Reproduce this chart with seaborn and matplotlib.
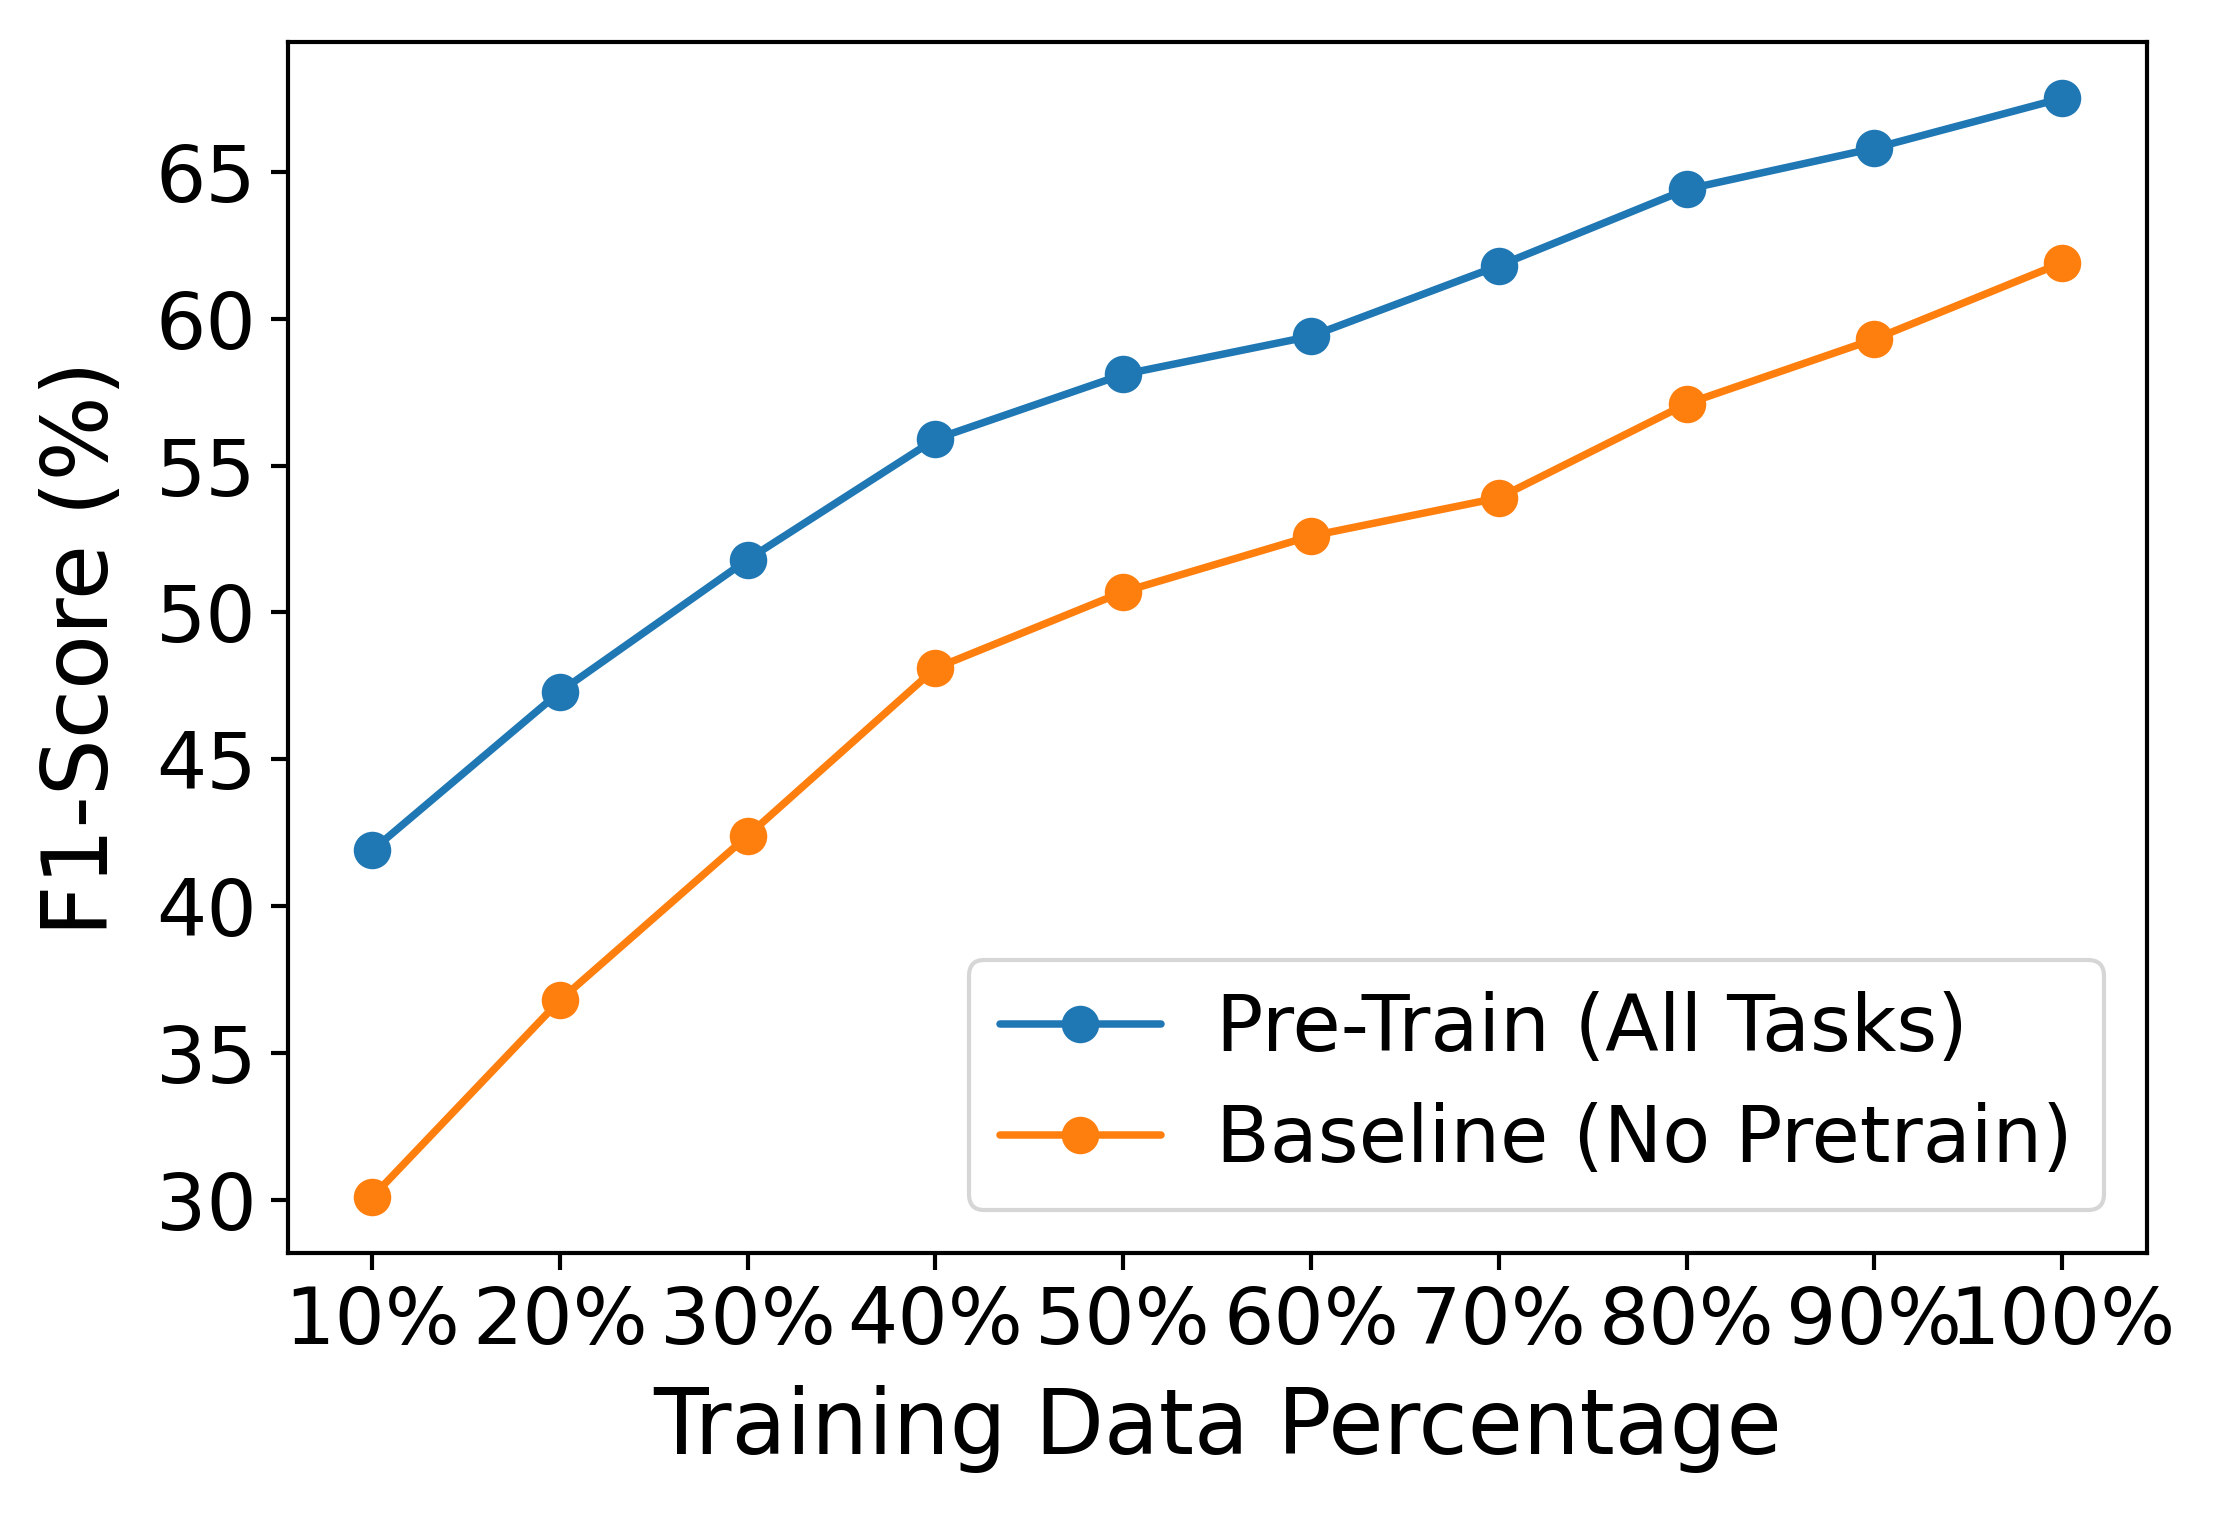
import matplotlib
matplotlib.use("Agg")
import matplotlib.pyplot as plt
import seaborn as sns
import pandas as pd

# Data
percentages = ['10%', '20%', '30%', '40%', '50%', '60%', '70%', '80%', '90%', '100%']
pretrain_f1 = [41.9, 47.3, 51.8, 55.9, 58.1, 59.4, 61.8, 64.4, 65.8, 67.5]
baseline_f1 = [30.1, 36.8, 42.4, 48.1, 50.7, 52.6, 53.9, 57.1, 59.3, 61.9]
series_names = ['Pre-Train (All Tasks)', 'Baseline (No Pretrain)']
y_ticks = [30, 35, 40, 45, 50, 55, 60, 65]


def make_plot():
    sns.set_style("ticks")
    plt.rcParams['font.family'] = ['DejaVu Sans']
    plt.rcParams['text.color'] = 'black'
    plt.rcParams['axes.labelcolor'] = 'black'
    plt.rcParams['xtick.color'] = 'black'
    plt.rcParams['ytick.color'] = 'black'

    df = pd.DataFrame({
        'Percentage': percentages * 2,
        'F1': pretrain_f1 + baseline_f1,
        'Model': [series_names[0]] * len(percentages) + [series_names[1]] * len(percentages),
    })

    fig, ax = plt.subplots(figsize=(2213 / 300, 1515 / 300), dpi=300)
    sns.lineplot(data=df, x='Percentage', y='F1', hue='Model', sort=False,
                 palette=['#1f77b4', '#ff7f0e'], marker='o', markersize=9,
                 markeredgewidth=0, linewidth=1.8, ax=ax)

    ax.set_yticks(y_ticks)
    ax.set_ylim(28.2, 69.4)
    ax.set_xlim(-0.45, 9.45)
    ax.tick_params(axis='both', labelsize=19, length=4, width=1, direction='out')
    ax.set_xlabel('Training Data Percentage', fontsize=21.5, labelpad=6)
    ax.set_ylabel('F1-Score (%)', fontsize=21.5, labelpad=7)
    for s in ax.spines.values():
        s.set_visible(True)
        s.set_linewidth(1)
        s.set_color('black')

    ax.legend(loc='lower right', fontsize=18.8, frameon=True, fancybox=True,
              framealpha=0.8, edgecolor='#cccccc', labelspacing=0.45,
              handlelength=2.05, handletextpad=0.7, borderaxespad=0.55)

    fig.subplots_adjust(left=0.13, right=0.97, top=0.972, bottom=0.173)
    fig.savefig('out.png', dpi=300)
    plt.close(fig)


if __name__ == "__main__":
    make_plot()
